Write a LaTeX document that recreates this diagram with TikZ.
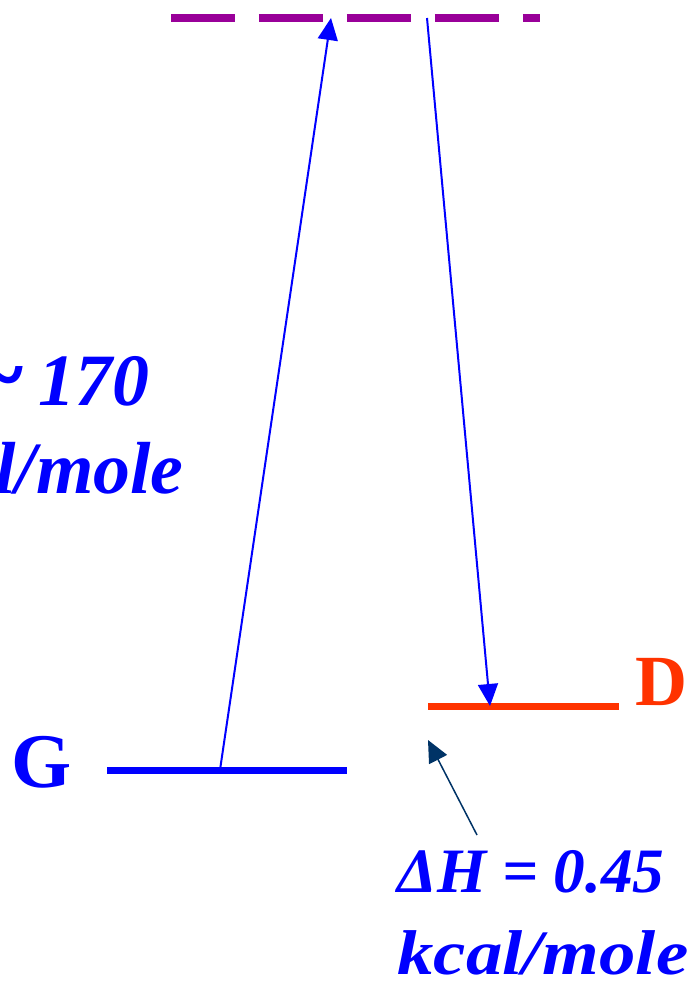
\documentclass[tikz,border=0pt]{standalone}
\usepackage{fontspec}
\setmainfont{Liberation Serif}
\usetikzlibrary{arrows.meta}
\definecolor{lvlblue}{HTML}{0000FF}
\definecolor{lvlred}{HTML}{FF3300}
\definecolor{virtpurple}{HTML}{990099}
\definecolor{tipnavy}{HTML}{003366}
\tikzset{
  >={Triangle[length=0.44cm,width=0.4cm]},
  lvl/.style={line width=0.14cm},
  virt/.style={line width=0.16cm,virtpurple,dash pattern=on 1.28cm off 0.48cm},
  trans/.style={->,lvlblue,line width=0.04cm},
  dhptr/.style={->,tipnavy,line width=0.03cm},
  lvllbl/.style={font=\bfseries\fontsize{44}{50}\selectfont,inner sep=0pt},
  elbl/.style={font=\bfseries\itshape\fontsize{42}{48}\selectfont,text=lvlblue,inner sep=0pt},
  dhlbl/.style={font=\bfseries\itshape\fontsize{36}{42}\selectfont,text=lvlblue,inner sep=0pt},
}
\begin{document}
\begin{tikzpicture}[x=0.02cm,y=-0.02cm]
  \useasboundingbox (0,0) rectangle (698,981);
  \clip (0,0) rectangle (698,981);
  % levels
  \coordinate (vL) at (171,18);
  \coordinate (vR) at (540,18);
  \coordinate (gL) at (107,770);
  \coordinate (gR) at (347,770);
  \coordinate (dL) at (428,706);
  \coordinate (dR) at (619,706);
  \draw[virt] (vL) -- (vR);
  \draw[lvl,lvlblue] (gL) -- (gR);
  \draw[lvl,lvlred] (dL) -- (dR);
  \node[lvllbl,text=lvlblue,anchor=base] (G) at (42,787) {G};
  \node[lvllbl,text=lvlred,anchor=base,font=\bfseries\fontsize{41}{46}\selectfont] (D) at (662,705) {D};
  % transitions
  \coordinate (up0) at (220,770);
  \coordinate (up1) at (331,18);
  \coordinate (dn0) at (427,18);
  \coordinate (dn1) at (490,706);
  \draw[trans] (up0) -- (up1);
  \draw[trans] (dn0) -- (dn1);
  % energies
  \node[elbl,anchor=base east] (exc) at (150,405) {\scalebox{1.4}[1.25]{\textasciitilde}\hspace{0.18em}170};
  \node[elbl,anchor=base east] (excu) at (184,493) {kcal/mole};
  \node[dhlbl,anchor=base west] (dh) at (397,892) {ΔH = 0.45};
  \node[dhlbl,anchor=base west] (dhu) at (397,974) {\scalebox{1.15}[1]{kcal/mole}};
  \coordinate (dhfoot) at (477,835);
  \coordinate (dhtip) at (428,740);
  \draw[dhptr] (dhfoot) -- (dhtip);
\end{tikzpicture}
\end{document}
